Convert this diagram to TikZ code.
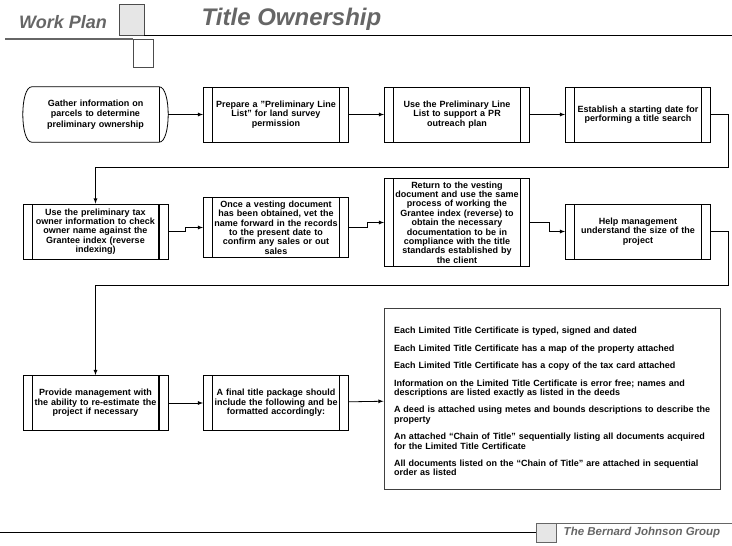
\documentclass[tikz,border=0pt]{standalone}
\usepackage{fontspec}
\setmainfont{Liberation Sans}
\usetikzlibrary{positioning}
\definecolor{hdrgray}{HTML}{666666}
\definecolor{boxgray}{HTML}{E6E6E6}

\begin{document}
\begin{tikzpicture}[x=1pt,y=-1pt,>=latex,node distance=181pt,on grid,
   every node/.style={font=\fontsize{9}{9.4}\selectfont\bfseries},
   task/.style={draw,line width=0.8pt,minimum width=145pt,minimum height=55pt,
     text width=139pt,inner xsep=3pt,inner ysep=3pt,align=center,
     path picture={
       \draw ([xshift=9pt]path picture bounding box.north west) -- ([xshift=9pt]path picture bounding box.south west);
       \draw[line width=1.2pt] ([xshift=-9pt]path picture bounding box.north east) -- ([xshift=-9pt]path picture bounding box.south east);}},
   start/.style={draw=none,minimum width=145pt,minimum height=55pt,text width=139pt,
     inner xsep=3pt,inner ysep=3pt,align=center,font=\fontsize{9}{10.2}\selectfont\bfseries},
   link/.style={->,line width=0.8pt},
   hdr/.style={text=hdrgray,font=\fontsize{18}{20}\selectfont\bfseries\itshape}]
   \useasboundingbox (0,0) rectangle (732,546);

   % header
   \node[hdr] (plan) at (63,22) {Work Plan};
   \filldraw[fill=boxgray,draw=black!70,line width=0.8pt] (119,4) rectangle (144,35);
   \draw[line width=0.9pt] (144,35) -- (732,35);
   \draw[hdrgray,line width=1.4pt] (5,39) -- (133,39);
   \draw[black!70,line width=0.8pt] (133,39) rectangle (153,67);
   \node[hdr,font=\fontsize{24}{26}\selectfont\bfseries\itshape] (title) at (291.5,19) {Title Ownership};

   % row 1
   \node[start] (gather) at (95.5,114.5) {Gather information on\\parcels to determine\\preliminary ownership};
   \draw[line width=0.8pt] ([xshift=9pt]gather.north west)
      .. controls ([xshift=-3pt]gather.north west) and ([xshift=-3pt]gather.south west) .. ([xshift=9pt]gather.south west)
      -- ([xshift=-9pt]gather.south east)
      .. controls ([xshift=3pt]gather.south east) and ([xshift=3pt]gather.north east) .. ([xshift=-9pt]gather.north east)
      -- cycle;
   \draw[line width=1.2pt] ([xshift=-9pt]gather.north east) -- ([xshift=-9pt]gather.south east);
   \node[task] (prep) [right=180.5pt of gather] {Prepare a "Preliminary Line\\List" for land survey\\permission};
   \node[task] (pr) [right=of prep] {Use the Preliminary Line\\List to support a PR\\outreach plan};
   \node[task] (date) [right=of pr] {Establish a starting date for\\performing a title search};

   % row 2
   \node[task] (tax) [below=117pt of gather] {Use the preliminary tax\\owner information to check\\owner name against the\\Grantee index (reverse\\indexing)};
   \node[task] (vest) [right=180.5pt of tax,yshift=4pt] {Once a vesting document\\has been obtained, vet the\\name forward in the records\\to the present date to\\confirm any sales or out\\sales};
   \node[task] (ret) [right=of vest,yshift=5pt] {Return to the vesting\\document and use the same\\process of working the\\Grantee index (reverse) to\\obtain the necessary\\documentation to be in\\compliance with the title\\standards established by\\the client};
   \node[task] (help) [right=of ret,yshift=-9pt] {Help management\\understand the size of the\\project};

   % row 3
   \node[task] (redo) [below=171.5pt of tax] {Provide management with\\the ability to re-estimate the\\project if necessary};
   \node[task] (final) [right=180.5pt of redo] {A final title package should\\include the following and be\\formatted accordingly:};
   \node[draw=black!75,line width=1pt,minimum width=336pt,minimum height=181pt,text width=326pt,
         inner xsep=5pt,align=left] (list) [right=276pt of final,yshift=4.5pt]
     {\rule{0pt}{13pt}\hspace*{5pt}Each Limited Title Certificate is typed, signed and dated\\[8pt]
      \hspace*{5pt}Each Limited Title Certificate has a map of the property attached\\[8pt]
      \hspace*{5pt}Each Limited Title Certificate has a copy of the tax card attached\\[8pt]
      \hspace*{5pt}Information on the Limited Title Certificate is error free; names and\\
      \hspace*{5pt}descriptions are listed exactly as listed in the deeds\\[8pt]
      \hspace*{5pt}A deed is attached using metes and bounds descriptions to describe the\\
      \hspace*{5pt}property\\[8pt]
      \hspace*{5pt}An attached “Chain of Title” sequentially listing all documents acquired\\
      \hspace*{5pt}for the Limited Title Certificate\\[8pt]
      \hspace*{5pt}All documents listed on the “Chain of Title” are attached in sequential\\
      \hspace*{5pt}order as listed};

   \coordinate (turn1) at (728,167);
   \coordinate (turn2) at (728,285);

   \path[link]
    (gather) edge (prep)
    (prep) edge (pr)
    (pr) edge (date)
    (redo) edge (final)
    (final) edge (list);
   \draw[link] (date.east) -| (turn1) -| (tax.north);
   \draw[link] (tax.east) -- ++(17,0) |- (vest.west);
   \draw[link] (vest.east) -- ++(18,0) |- (ret.west);
   \draw[link] (ret.east) -- ++(19,0) |- (help.west);
   \draw[link] (help.east) -| (turn2) -| (redo.north);

   % footer
   \draw[line width=0.9pt] (0,532) -- (536,532);
   \filldraw[fill=boxgray,draw=black!60,line width=0.8pt] (536,523) rectangle (556,542);
   \draw[hdrgray,line width=0.9pt] (556,523) -- (732,523);
   \node[text=hdrgray,font=\fontsize{11.5}{13}\selectfont\bfseries\itshape] (firm) at (642,533) {The Bernard Johnson Group};
\end{tikzpicture}
\end{document}
